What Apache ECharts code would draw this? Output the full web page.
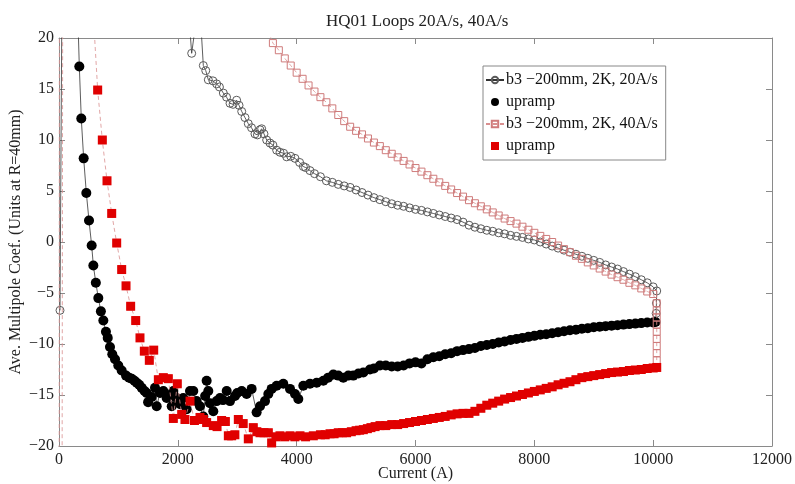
<!DOCTYPE html>
<html>
<head>
<meta charset="utf-8">
<script src="https://cdn.jsdelivr.net/npm/echarts@6/dist/echarts.min.js"></script>
<style>
  html, body { margin: 0; padding: 0; background: #fff; }
  #chart { width: 795px; height: 484px; }
</style>
</head>
<body>
<div id="chart"></div>
<script>
// 20 A/s loop: [current (A), b3 (units)]
const up20 = [
  [342, 17.2], [375, 12.1], [415, 8.2], [460, 4.8], [505, 2.1], [550, -0.35], [578, -2.3], [620, -4.0],
  [662, -5.5], [705, -6.8], [746, -7.7], [790, -8.8], [820, -9.4], [858, -10.3], [897, -11.0], [943, -11.5],
  [998, -12.1], [1055, -12.6], [1128, -13.1], [1180, -13.3], [1224, -13.4], [1270, -13.6], [1308, -13.8],
  [1350, -14.0], [1392, -14.3], [1440, -14.6], [1476, -14.8], [1500, -15.7], [1560, -15.2], [1616, -14.3],
  [1644, -16.1], [1700, -14.8], [1756, -14.6], [1812, -15.3], [1870, -15.0], [1897, -16.1], [1924, -14.6],
  [1960, -15.2], [2008, -15.6], [2040, -15.9], [2092, -15.3], [2149, -16.4], [2205, -14.6], [2260, -14.6],
  [2316, -15.6], [2372, -16.1], [2429, -17.1], [2460, -15.1], [2485, -13.6], [2513, -14.6], [2540, -15.8],
  [2597, -16.6], [2653, -15.6], [2710, -15.3], [2760, -15.5], [2822, -14.6], [2878, -15.6], [2962, -15.1],
  [3000, -14.8], [3075, -14.6], [3158, -14.9], [3242, -14.4], [3326, -16.7], [3383, -16.1], [3467, -15.6],
  [3523, -14.9], [3579, -14.4], [3663, -14.1], [3775, -13.9], [3888, -14.4], [3972, -14.9], [4028, -15.4],
  [4112, -14.1], [4224, -13.9], [4337, -13.8], [4449, -13.6], [4530, -13.3], [4617, -13.0], [4700, -13.1],
  [4785, -13.3], [4870, -13.1], [4953, -13.1], [5040, -12.9], [5122, -12.8], [5234, -12.5], [5300, -12.4],
  [5402, -12.1], [5500, -12.1], [5600, -12.2], [5700, -12.2], [5800, -12.1], [5900, -11.9], [6000, -11.8],
  [6100, -11.9], [6200, -11.5], [6300, -11.3], [6400, -11.2], [6500, -11.0], [6600, -10.9], [6700, -10.7],
  [6800, -10.6], [6900, -10.5], [7000, -10.4], [7100, -10.2], [7200, -10.1], [7300, -10.0], [7400, -9.85],
  [7500, -9.75], [7600, -9.6], [7700, -9.5], [7800, -9.4], [7900, -9.3], [8000, -9.2], [8100, -9.1],
  [8200, -9.05], [8300, -8.95], [8400, -8.85], [8500, -8.75], [8600, -8.65], [8700, -8.6], [8800, -8.5],
  [8900, -8.45], [9000, -8.35], [9100, -8.3], [9200, -8.25], [9300, -8.2], [9400, -8.15], [9500, -8.1],
  [9600, -8.05], [9700, -8.0], [9800, -7.95], [9900, -7.9], [10000, -7.9], [10040, -7.85]
];
const down20 = [
  [10050, -7.0], [10055, -6.0], [10060, -4.8], [10000, -4.4], [9900, -4.0], [9800, -3.7], [9700, -3.4],
  [9600, -3.15], [9500, -2.9], [9400, -2.65], [9300, -2.45], [9200, -2.25], [9100, -2.0], [9000, -1.8],
  [8900, -1.6], [8800, -1.4], [8700, -1.2], [8600, -1.0], [8500, -0.8], [8400, -0.6], [8300, -0.4],
  [8200, -0.2], [8100, 0.0], [8000, 0.2], [7900, 0.3], [7800, 0.45], [7700, 0.55], [7600, 0.65],
  [7500, 0.8], [7400, 0.9], [7300, 1.05], [7200, 1.15], [7100, 1.3], [7000, 1.45], [6900, 1.65],
  [6800, 1.95], [6700, 2.2], [6600, 2.35], [6500, 2.5], [6400, 2.65], [6300, 2.8], [6200, 2.95],
  [6100, 3.1], [6000, 3.2], [5900, 3.35], [5800, 3.5], [5700, 3.6], [5600, 3.75], [5500, 3.95],
  [5400, 4.15], [5300, 4.35], [5200, 4.6], [5100, 4.85], [5000, 5.1], [4900, 5.35], [4800, 5.5],
  [4700, 5.65], [4600, 5.85], [4500, 6.0], [4400, 6.4], [4300, 6.7], [4224, 7.0], [4150, 7.3],
  [4112, 7.4], [4050, 7.8], [3972, 8.2], [3900, 8.4], [3832, 8.35], [3780, 8.7], [3719, 8.8],
  [3663, 9.0], [3600, 9.5], [3551, 9.7], [3495, 10.0], [3450, 10.6], [3411, 11.1], [3383, 11.0],
  [3340, 10.5], [3298, 10.6], [3240, 11.2], [3186, 11.6], [3130, 12.2], [3075, 12.8], [3030, 13.4],
  [2990, 13.9], [2930, 13.5], [2878, 13.6], [2820, 14.2], [2766, 14.6], [2700, 15.2], [2653, 15.5],
  [2590, 15.8], [2513, 15.9], [2470, 16.8], [2429, 17.3], [2360, 24], [2233, 18.5], [2150, 25], [1500, 120]
];
const start20 = [[17, -6.7], [150, 120], [320, 21.5]];

// 40 A/s loop
const up40 = [
  [651, 14.9], [729, 10.0], [808, 6.0], [887, 2.8], [971, -0.1], [1055, -2.7], [1128, -4.3], [1206, -6.3],
  [1291, -7.7], [1363, -9.4], [1436, -10.7], [1520, -11.6], [1594, -10.6], [1672, -13.5], [1756, -13.3],
  [1840, -13.4], [1924, -17.3], [1991, -13.9], [2065, -16.9], [2120, -17.4], [2205, -15.6], [2280, -17.5],
  [2373, -17.2], [2429, -17.4], [2485, -17.7], [2597, -18.0], [2660, -18.1], [2737, -17.5], [2800, -17.6],
  [2850, -19.0], [2906, -19.0], [2960, -18.9], [3018, -17.4], [3100, -17.8], [3186, -19.3], [3270, -18.2],
  [3330, -18.6], [3383, -18.7], [3450, -18.7], [3523, -18.7], [3579, -19.7], [3650, -19.1], [3719, -19.0],
  [3800, -19.1], [3888, -19.0], [3970, -19.1], [4056, -19.0], [4150, -19.1], [4280, -19.0], [4400, -18.9],
  [4480, -18.9], [4561, -18.8], [4630, -18.8], [4700, -18.7], [4770, -18.7], [4841, -18.7], [4920, -18.6],
  [5000, -18.5], [5060, -18.45], [5122, -18.4], [5190, -18.3], [5250, -18.2], [5320, -18.1], [5402, -18.0],
  [5500, -18.0], [5600, -17.9], [5700, -17.9], [5800, -17.8], [5900, -17.7], [6000, -17.6], [6100, -17.5],
  [6200, -17.4], [6300, -17.3], [6400, -17.2], [6500, -17.1], [6600, -16.95], [6700, -16.85], [6800, -16.8],
  [6900, -16.8], [7000, -16.6], [7100, -16.3], [7200, -16.0], [7300, -15.8], [7400, -15.6], [7500, -15.4],
  [7600, -15.25], [7700, -15.1], [7800, -14.95], [7900, -14.8], [8000, -14.65], [8100, -14.5], [8200, -14.35],
  [8300, -14.2], [8400, -14.0], [8500, -13.85], [8600, -13.7], [8700, -13.5], [8800, -13.3], [8900, -13.2],
  [9000, -13.1], [9100, -13.0], [9200, -12.9], [9300, -12.8], [9400, -12.75], [9500, -12.7], [9600, -12.6],
  [9700, -12.55], [9800, -12.5], [9900, -12.4], [10000, -12.35], [10060, -12.3]
];
const down40 = [
  [10060, -11.6], [10060, -10.9], [10060, -10.2], [10060, -9.5], [10060, -8.8], [10060, -8.1], [10060, -7.4],
  [10060, -6.7], [10060, -6.0], [10000, -5.1], [9900, -4.85], [9800, -4.55], [9700, -4.25], [9600, -4.0],
  [9500, -3.7], [9400, -3.45], [9300, -3.2], [9200, -2.9], [9100, -2.6], [9000, -2.3], [8900, -2.0],
  [8800, -1.65], [8700, -1.35], [8600, -1.0], [8500, -0.7], [8400, -0.35], [8300, 0.0], [8200, 0.3],
  [8100, 0.6], [8000, 0.9], [7900, 1.2], [7800, 1.5], [7700, 1.8], [7600, 2.05], [7500, 2.3], [7400, 2.6],
  [7300, 2.9], [7200, 3.2], [7100, 3.5], [7000, 3.8], [6900, 4.1], [6800, 4.45], [6700, 4.8], [6600, 5.15],
  [6500, 5.5], [6400, 5.85], [6300, 6.2], [6200, 6.55], [6100, 6.9], [6000, 7.25], [5900, 7.6], [5800, 7.95],
  [5700, 8.3], [5600, 8.65], [5500, 9.0], [5400, 9.4], [5300, 9.75], [5200, 10.15], [5100, 10.55],
  [5000, 10.9], [4900, 11.3], [4800, 11.85], [4700, 12.45], [4600, 13.1], [4500, 13.7], [4400, 14.2],
  [4300, 14.75], [4200, 15.35], [4100, 16.0], [4000, 16.6], [3900, 17.3], [3800, 18.0], [3700, 18.8],
  [3600, 19.5], [3500, 21], [2000, 100], [100, 200], [40, -80]
];
const start40 = [[0, -80], [10, 80], [560, 24]];

const xTicks = { min: 0, max: 12000, interval: 2000 };
const yTicks = { min: -20, max: 20, interval: 5 };

const serif = "Liberation Serif";
const axisGray = "#8a8a8a";
const name20 = "b3 \u2212200mm, 2K, 20A/s";
const name40 = "b3 \u2212200mm, 2K, 40A/s";

function fmt(v) {
  return v < 0 ? "\u2212" + Math.abs(v) : String(v);
}

function boxAxis(kind, pos, extra) {
  return Object.assign({
    type: "value",
    position: pos,
    axisLine: { show: true, onZero: false, lineStyle: { color: axisGray, width: 1 } },
    axisTick: { show: true, inside: true, length: 6, lineStyle: { color: axisGray } },
    splitLine: { show: false },
    axisLabel: { show: false }
  }, kind, extra);
}

const chart = echarts.init(document.getElementById("chart"));
chart.setOption({
  animation: false,
  backgroundColor: "#fff",
  title: {
    text: "HQ01 Loops 20A/s, 40A/s",
    left: 321,
    top: 8,
    textStyle: { fontFamily: serif, fontSize: 17, fontWeight: "normal", color: "#222" }
  },
  grid: { left: 59, right: 23, top: 38, bottom: 38, containLabel: false, outerBoundsMode: "none" },
  legend: {
    orient: "vertical",
    left: 483,
    top: 66,
    padding: [6, 8, 6, 2],
    itemGap: 6,
    itemWidth: 18,
    itemHeight: 8,
    backgroundColor: "#fff",
    borderColor: "#888",
    borderWidth: 1,
    textStyle: { fontFamily: serif, fontSize: 16, color: "#111", padding: [0, 0, 0, -3] },
    data: [
      name20,
      "upramp",
      name40,
      { name: "upramp ", icon: "path://M0 0H8V8H0Z" }
    ]
  },
  xAxis: [
    boxAxis(xTicks, "bottom", {
      name: "Current (A)",
      nameLocation: "middle",
      nameGap: 20,
      nameMoveOverlap: false,
      nameTextStyle: { fontFamily: serif, fontSize: 16, color: "#222" },
      axisLabel: { show: true, fontFamily: serif, fontSize: 16, color: "#222", margin: 6, formatter: fmt }
    }),
    boxAxis(xTicks, "top")
  ],
  yAxis: [
    boxAxis(yTicks, "left", {
      name: "Ave. Multipole Coef. (Units at R=40mm)",
      nameLocation: "middle",
      nameGap: 35,
      nameMoveOverlap: false,
      nameTextStyle: { fontFamily: serif, fontSize: 16, color: "#222" },
      axisLabel: { show: true, fontFamily: serif, fontSize: 16, color: "#222", margin: 5, formatter: fmt }
    }),
    boxAxis(yTicks, "right")
  ],
  series: [
    {
      name: name20,
      type: "line",
      data: start20.concat(up20, down20),
      symbol: "circle",
      symbolSize: 8,
      showAllSymbol: true,
      clip: true,
      itemStyle: { color: "rgba(0,0,0,0)", borderColor: "#5a5a5a", borderWidth: 1 },
      lineStyle: { color: "#333", width: 0.8 },
      z: 2
    },
    {
      name: "upramp",
      type: "scatter",
      data: up20,
      symbol: "circle",
      symbolSize: 10,
      itemStyle: { color: "#000", opacity: 1 },
      z: 3
    },
    {
      name: name40,
      type: "line",
      data: start40.concat(up40, down40),
      symbol: "rect",
      symbolSize: 7,
      showAllSymbol: true,
      clip: true,
      itemStyle: { color: "rgba(0,0,0,0)", borderColor: "#cf7b7b", borderWidth: 1 },
      lineStyle: { color: "#d98f8f", width: 0.8, type: [4, 3] },
      z: 4
    },
    {
      name: "upramp ",
      type: "scatter",
      data: up40,
      symbol: "rect",
      symbolSize: 9,
      itemStyle: { color: "#e00000", opacity: 1 },
      z: 5
    }
  ]
});
</script>
</body>
</html>
